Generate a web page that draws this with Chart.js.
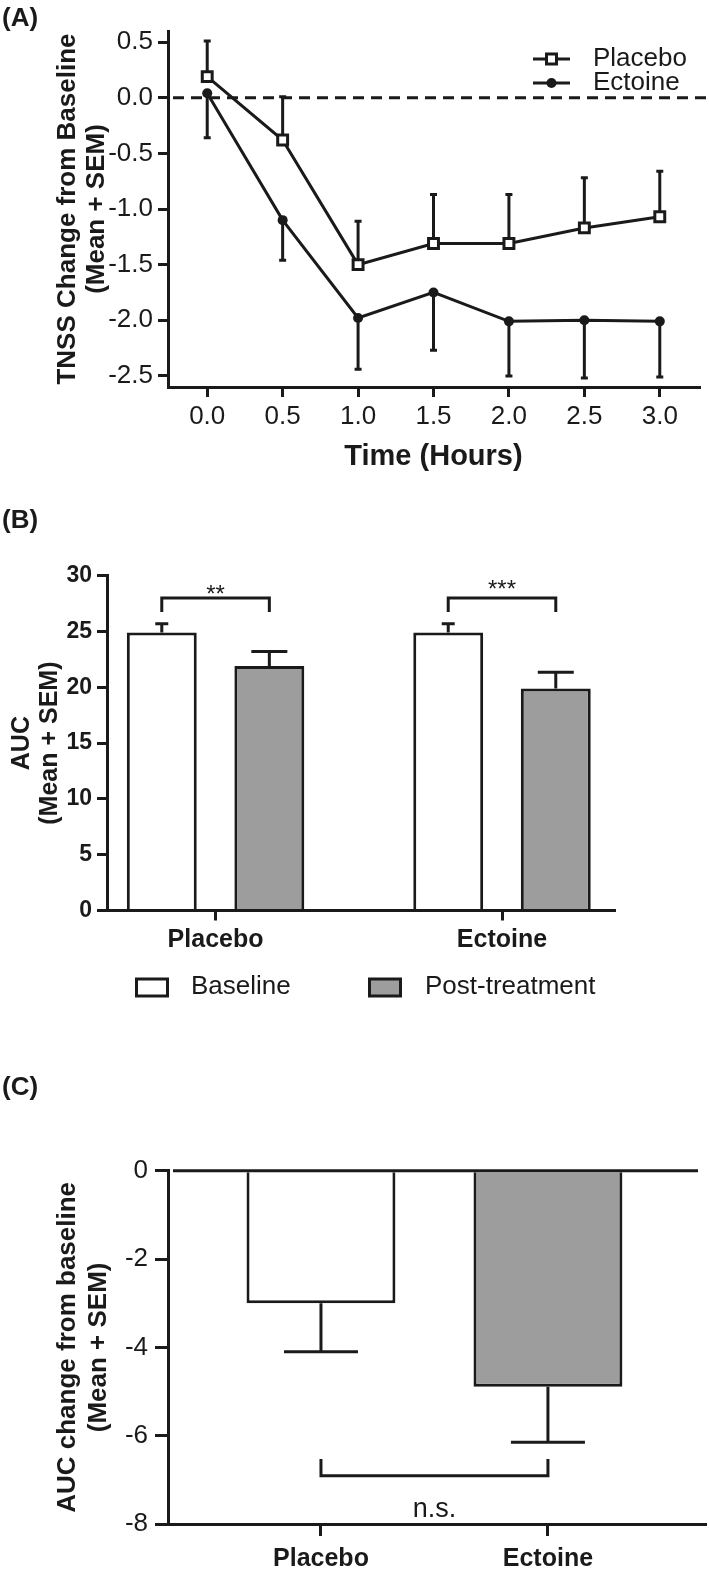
<!DOCTYPE html>
<html>
<head>
<meta charset="utf-8">
<script src="https://cdn.jsdelivr.net/npm/chart.js@4.4.1/dist/chart.umd.min.js"></script>
<style>
  html, body { margin: 0; padding: 0; background: #fff; }
  #page { position: relative; width: 709px; height: 1577px; overflow: hidden; }
  canvas { position: absolute; left: 0; }
  .panel { position: absolute; left: 2px; font: bold 26px 'Liberation Sans', Arial, sans-serif; line-height: 26px; color: #1a1a1a; }
</style>
</head>
<body>
<div id="page">
  <canvas id="chartA" width="709" height="500" style="top:0"></canvas>
  <canvas id="chartB" width="709" height="520" style="top:500px"></canvas>
  <canvas id="chartC" width="709" height="557" style="top:1020px"></canvas>
  <div class="panel" style="top:4px">(A)</div>
  <div class="panel" style="top:506px">(B)</div>
  <div class="panel" style="top:1073px">(C)</div>
</div>
<script>
const INK = '#1a1a1a';
const GREY = '#9d9d9d';
Chart.defaults.font.family = "'Liberation Sans', Arial, sans-serif";
Chart.defaults.color = INK;

// (A) TNSS change over time, mean + SEM
const timeHours = [0, 0.5, 1, 1.5, 2, 2.5, 3];
const placeboTnss = [0.19, -0.38, -1.50, -1.31, -1.31, -1.17, -1.07];
const placeboTnssSem = [0.32, 0.39, 0.39, 0.44, 0.44, 0.45, 0.41];
const ectoineTnss = [0.04, -1.10, -1.98, -1.75, -2.01, -2.00, -2.01];
const ectoineTnssSem = [0.40, 0.36, 0.46, 0.52, 0.49, 0.52, 0.50];
const tnssTicks = [-2.5, -2.0, -1.5, -1.0, -0.5, 0.0, 0.5];
const timeTicks = [0, 0.5, 1, 1.5, 2, 2.5, 3];

// (B) AUC baseline vs post-treatment
const groups = ['Placebo', 'Ectoine'];
const baselineAuc = [24.9, 24.9];
const baselineAucSem = [0.8, 0.8];
const postAuc = [21.9, 19.9];
const postAucSem = [1.3, 1.45];
const aucTicks = [0, 5, 10, 15, 20, 25, 30];
const aucStars = ['**', '***'];

// (C) AUC change from baseline
const aucChange = [-3.0, -4.89];
const aucChangeSem = [1.1, 1.26];
const changeTicks = [-8, -6, -4, -2, 0];
const changeNote = 'n.s.';

function fixedTicks(list) {
  return scale => { scale.ticks = list.map(v => ({ value: v })); };
}

function makeErrorBars(items) {
  return {
    id: 'errorBars',
    beforeDatasetsDraw(chart) {
      const ctx = chart.ctx;
      const y = chart.scales.y;
      ctx.save();
      ctx.strokeStyle = INK;
      ctx.lineWidth = 3;
      items.forEach(it => {
        const meta = chart.getDatasetMeta(it.dataset);
        const data = chart.data.datasets[it.dataset].data;
        meta.data.forEach((el, i) => {
          const v = typeof data[i] === 'object' ? data[i].y : data[i];
          const y0 = y.getPixelForValue(v);
          const y1 = y.getPixelForValue(v + it.dir * it.sem[i]);
          ctx.beginPath();
          ctx.moveTo(el.x, y0);
          ctx.lineTo(el.x, y1);
          ctx.moveTo(el.x - it.cap / 2, y1);
          ctx.lineTo(el.x + it.cap / 2, y1);
          ctx.stroke();
        });
      });
      ctx.restore();
    }
  };
}

function makeZeroLine(dash, rightEdge) {
  return {
    id: 'zeroLine',
    afterDatasetsDraw(chart) {
      const ctx = chart.ctx;
      const a = chart.chartArea;
      const y0 = chart.scales.y.getPixelForValue(0);
      ctx.save();
      ctx.strokeStyle = INK;
      ctx.lineWidth = 3;
      ctx.setLineDash(dash);
      ctx.beginPath();
      ctx.moveTo(a.left + 5, y0);
      ctx.lineTo(rightEdge, y0);
      ctx.stroke();
      ctx.restore();
    }
  };
}

function makeBrackets(items) {
  return {
    id: 'brackets',
    afterDatasetsDraw(chart) {
      const ctx = chart.ctx;
      const y = chart.scales.y;
      ctx.save();
      ctx.strokeStyle = INK;
      ctx.fillStyle = INK;
      ctx.lineWidth = 3;
      items.forEach(it => {
        const x0 = chart.getDatasetMeta(it.from[0]).data[it.from[1]].x;
        const x1 = chart.getDatasetMeta(it.to[0]).data[it.to[1]].x;
        const yl = y.getPixelForValue(it.level);
        const yt = y.getPixelForValue(it.legTo);
        ctx.beginPath();
        ctx.moveTo(x0, yt);
        ctx.lineTo(x0, yl);
        ctx.lineTo(x1, yl);
        ctx.lineTo(x1, yt);
        ctx.stroke();
        ctx.font = it.size + "px 'Liberation Sans', Arial, sans-serif";
        ctx.textAlign = 'center';
        ctx.textBaseline = 'alphabetic';
        ctx.fillText(it.text, (x0 + x1) / 2, yl + it.textGap);
      });
      ctx.restore();
    }
  };
}

const lineLegend = {
  id: 'lineLegend',
  afterDraw(chart) {
    const ctx = chart.ctx;
    const rows = [59, 83];
    ctx.save();
    chart.data.datasets.forEach((ds, i) => {
      const y = rows[i];
      ctx.strokeStyle = INK;
      ctx.lineWidth = 3;
      ctx.beginPath();
      ctx.moveTo(533, y);
      ctx.lineTo(570, y);
      ctx.stroke();
      if (ds.pointStyle === 'rect') {
        ctx.fillStyle = '#fff';
        ctx.fillRect(546.5, y - 5, 10, 10);
        ctx.strokeRect(546.5, y - 5, 10, 10);
      } else {
        ctx.fillStyle = INK;
        ctx.beginPath();
        ctx.arc(551.5, y, 5, 0, Math.PI * 2);
        ctx.fill();
      }
      ctx.fillStyle = INK;
      ctx.font = "26px 'Liberation Sans', Arial, sans-serif";
      ctx.textAlign = 'left';
      ctx.textBaseline = 'middle';
      ctx.fillText(ds.label, 593, y);
    });
    ctx.restore();
  }
};

const boxLegend = {
  id: 'boxLegend',
  afterDraw(chart) {
    const ctx = chart.ctx;
    const spots = [[135, 191], [368, 425]];
    const y = 487;
    ctx.save();
    chart.data.datasets.forEach((ds, i) => {
      const [bx, tx] = spots[i];
      ctx.fillStyle = ds.backgroundColor;
      ctx.fillRect(bx + 1.5, y - 8, 31, 17);
      ctx.strokeStyle = INK;
      ctx.lineWidth = 3;
      ctx.strokeRect(bx + 1.5, y - 8, 31, 17);
      ctx.fillStyle = INK;
      ctx.font = "26px 'Liberation Sans', Arial, sans-serif";
      ctx.textAlign = 'left';
      ctx.textBaseline = 'middle';
      ctx.fillText(ds.label, tx, y);
    });
    ctx.restore();
  }
};

const axisGrid = { drawOnChartArea: false, color: INK, lineWidth: 3, offset: false };
const axisBorder = { color: INK, width: 3 };

// ---------- (A)
new Chart(document.getElementById('chartA'), {
  type: 'line',
  data: {
    datasets: [
      {
        label: 'Placebo',
        data: timeHours.map((t, i) => ({ x: t, y: placeboTnss[i] })),
        borderColor: INK, borderWidth: 3,
        pointStyle: 'rect', pointRadius: 7, pointBorderWidth: 3,
        pointBackgroundColor: '#fff', pointBorderColor: INK
      },
      {
        label: 'Ectoine',
        data: timeHours.map((t, i) => ({ x: t, y: ectoineTnss[i] })),
        borderColor: INK, borderWidth: 3,
        pointStyle: 'circle', pointRadius: 5, pointBorderWidth: 0,
        pointBackgroundColor: INK, pointBorderColor: INK
      }
    ]
  },
  options: {
    responsive: false,
    animation: false,
    layout: { padding: { top: 31, right: 2, left: 0, bottom: 0 } },
    plugins: { legend: { display: false }, tooltip: { enabled: false } },
    scales: {
      x: {
        type: 'linear', min: -0.26, max: 3.26, offset: false,
        afterBuildTicks: fixedTicks(timeTicks),
        afterFit: s => { s.height = 113; },
        grid: { ...axisGrid, tickLength: 10 },
        border: axisBorder,
        ticks: { font: { size: 26 }, padding: 4, autoSkip: false, maxRotation: 0, callback: v => v.toFixed(1) },
        title: { display: true, text: 'Time (Hours)', font: { size: 29, weight: 'bold', lineHeight: 1.2 }, padding: { top: 0, bottom: 26 } }
      },
      y: {
        min: -2.6, max: 0.6,
        afterBuildTicks: fixedTicks(tnssTicks),
        afterFit: s => { s.width = 168; },
        grid: { ...axisGrid, tickLength: 10 },
        border: axisBorder,
        ticks: { font: { size: 26 }, padding: 5, callback: v => v.toFixed(1) },
        title: { display: true, text: ['TNSS Change from Baseline', '(Mean + SEM)'], font: { size: 26, weight: 'bold', lineHeight: 1.12 }, padding: { top: 53.4, bottom: 0 } }
      }
    }
  },
  plugins: [
    makeZeroLine([11, 7], 709),
    makeErrorBars([
      { dataset: 0, sem: placeboTnssSem, dir: 1, cap: 7 },
      { dataset: 1, sem: ectoineTnssSem, dir: -1, cap: 7 }
    ]),
    lineLegend
  ]
});

// ---------- (B)
new Chart(document.getElementById('chartB'), {
  type: 'bar',
  data: {
    datasets: [
      {
        label: 'Baseline',
        data: groups.map((g, i) => ({ x: i, y: baselineAuc[i] })),
        backgroundColor: '#fff', borderColor: INK, borderWidth: 3,
        categoryPercentage: 0.751, barPercentage: 0.65
      },
      {
        label: 'Post-treatment',
        data: groups.map((g, i) => ({ x: i, y: postAuc[i] })),
        backgroundColor: GREY, borderColor: INK, borderWidth: 3,
        categoryPercentage: 0.751, barPercentage: 0.65
      }
    ]
  },
  options: {
    responsive: false,
    animation: false,
    layout: { padding: { top: 75.7, right: 95, left: 0, bottom: 0 } },
    plugins: { legend: { display: false }, tooltip: { enabled: false } },
    scales: {
      x: {
        type: 'linear', min: -0.379, max: 1.391, offset: false,
        afterBuildTicks: fixedTicks(groups.map((g, i) => i)),
        afterFit: s => { s.height = 109.5; },
        grid: { ...axisGrid, tickLength: 10 },
        border: axisBorder,
        ticks: { font: { size: 25, weight: 'bold' }, padding: 4.5, autoSkip: false, maxRotation: 0, callback: v => groups[v] }
      },
      y: {
        min: 0, max: 30,
        afterBuildTicks: fixedTicks(aucTicks),
        afterFit: s => { s.width = 107; },
        grid: { ...axisGrid, tickLength: 10 },
        border: axisBorder,
        ticks: { font: { size: 23, weight: 'bold' }, padding: 5 },
        title: { display: true, text: ['AUC', '(Mean + SEM)'], font: { size: 25, weight: 'bold', lineHeight: 1.12 }, padding: { top: 8, bottom: 0 } }
      }
    }
  },
  plugins: [
    makeErrorBars([
      { dataset: 0, sem: baselineAucSem, dir: 1, cap: 13 },
      { dataset: 1, sem: postAucSem, dir: 1, cap: 36 }
    ]),
    makeBrackets(groups.map((g, i) => ({
      from: [0, i], to: [1, i], level: 28.0, legTo: 26.75,
      text: aucStars[i], size: 24, textGap: i === 0 ? 4 : -1
    }))),
    boxLegend
  ]
});

// ---------- (C)
new Chart(document.getElementById('chartC'), {
  type: 'bar',
  data: {
    datasets: [
      {
        label: 'AUC change',
        data: groups.map((g, i) => ({ x: i, y: aucChange[i] })),
        backgroundColor: ['#fff', GREY], borderColor: INK, borderWidth: 3,
        categoryPercentage: 0.8, barPercentage: 0.82
      }
    ]
  },
  options: {
    responsive: false,
    animation: false,
    layout: { padding: { top: 150.7, right: 4, left: 0, bottom: 0 } },
    plugins: { legend: { display: false }, tooltip: { enabled: false } },
    scales: {
      x: {
        type: 'linear', min: -0.674, max: 1.692, offset: false,
        afterBuildTicks: fixedTicks(groups.map((g, i) => i)),
        afterFit: s => { s.height = 53; },
        grid: { ...axisGrid, tickLength: 12 },
        border: axisBorder,
        ticks: { font: { size: 25, weight: 'bold' }, padding: 8, autoSkip: false, maxRotation: 0, callback: v => groups[v] }
      },
      y: {
        min: -8, max: 0,
        afterBuildTicks: fixedTicks(changeTicks),
        afterFit: s => { s.width = 168; },
        grid: { ...axisGrid, tickLength: 13 },
        border: axisBorder,
        ticks: { font: { size: 26 }, padding: 7 },
        title: { display: true, text: ['AUC change from baseline', '(Mean + SEM)'], font: { size: 26, weight: 'bold', lineHeight: 1.2 }, padding: { top: 52.4, bottom: 0 } }
      }
    }
  },
  plugins: [
    makeZeroLine([], 698),
    makeErrorBars([{ dataset: 0, sem: aucChangeSem, dir: -1, cap: 74 }]),
    makeBrackets([{ from: [0, 0], to: [0, 1], level: -6.91, legTo: -6.53, text: changeNote, size: 27, textGap: 41 }])
  ]
});
</script>
</body>
</html>
